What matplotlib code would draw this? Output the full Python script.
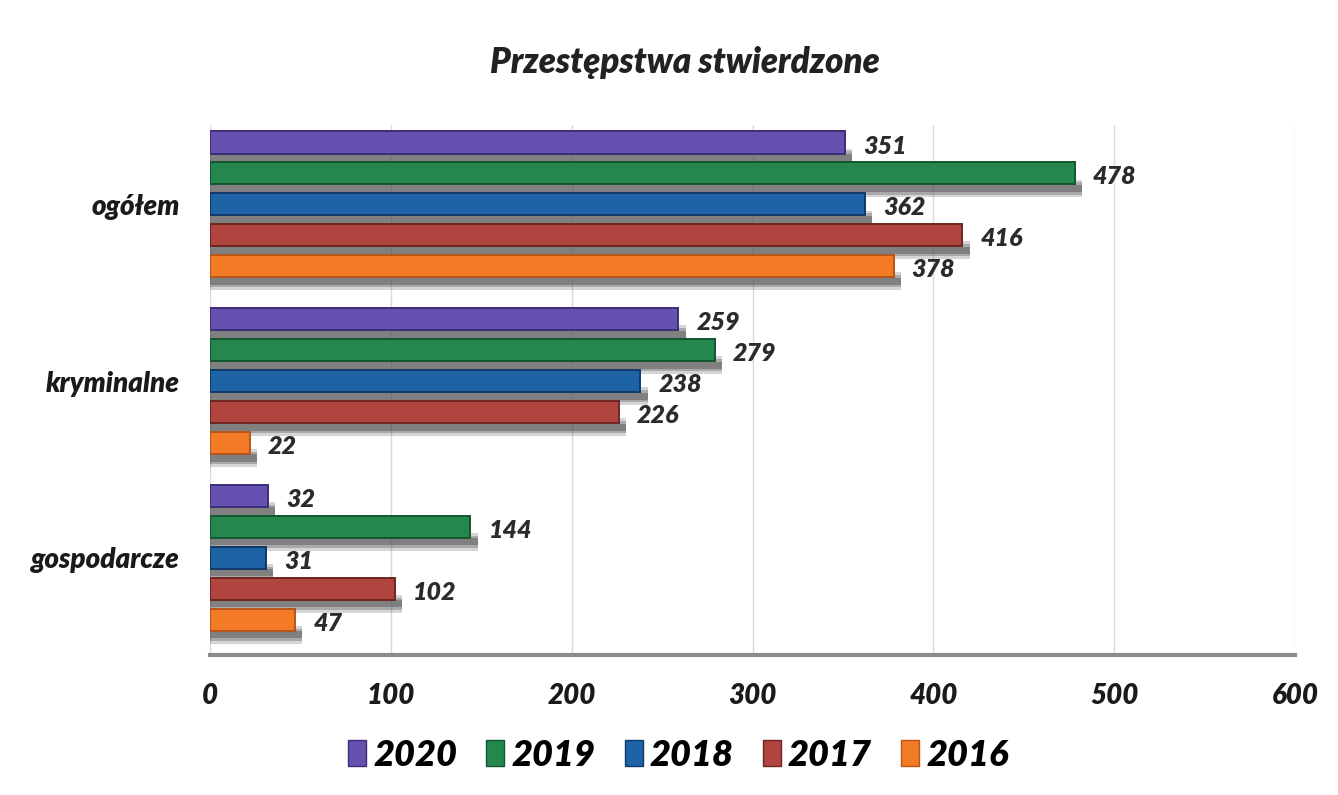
import matplotlib.pyplot as plt
from matplotlib.patches import Patch

# data
categories = ["ogółem", "kryminalne", "gospodarcze"]
years = ["2020", "2019", "2018", "2017", "2016"]
v2020 = [351, 259, 32]
v2019 = [478, 279, 144]
v2018 = [362, 238, 31]
v2017 = [416, 226, 102]
v2016 = [378, 22, 47]
series = [v2020, v2019, v2018, v2017, v2016]
colors = ["#6650b0", "#24884e", "#1d63a6", "#b0443e", "#f47b25"]
edges = ["#3d2d78", "#13562f", "#10396a", "#6e2522", "#b8541a"]

plt.rcParams['font.family'] = ['Lato', 'DejaVu Sans']
W = "heavy"

fig = plt.figure(figsize=(13.38, 7.95), dpi=100)
ax = fig.add_axes([0.157, 0.176, 0.811, 0.667])

step = 0.175
h = 0.125
for k, vals in enumerate(series):
    off = (k - 2) * step
    ys = [i + off for i in range(len(categories))]
    # soft shadow under each bar, a few layers for a blurred look
    for dy, hh, a in [(0.085, 0.1, 0.22), (0.085, 0.07, 0.3), (0.085, 0.04, 0.4)]:
        ax.barh([y + dy for y in ys], [v + 4 for v in vals], height=hh,
                left=0, color="#444444", alpha=a, linewidth=0, zorder=2)
    ax.barh(ys, vals, height=h, color=colors[k], edgecolor=edges[k],
            linewidth=1.4, zorder=3)
    for y, v in zip(ys, vals):
        ax.text(v + 10, y + 0.02, str(v), va="center", ha="left",
                fontsize=18, fontweight=W, fontstyle="italic",
                color="#2b2b2b", zorder=4)

ax.set_xlim(0, 600)
ax.set_ylim(2.55, -0.45)
ax.set_xticks(range(0, 601, 100))
ax.set_yticks(range(len(categories)))
ax.set_yticklabels(categories, fontsize=20, fontweight=W, fontstyle="italic")
for lab in ax.get_xticklabels():
    lab.set_fontsize(20)
    lab.set_fontweight(W)
    lab.set_fontstyle("italic")
ax.tick_params(axis="both", length=0, colors="#1a1a1a")
ax.tick_params(axis="x", pad=20)
ax.tick_params(axis="y", pad=22)
ax.grid(axis="x", color="#d9d9d9", linewidth=1, zorder=0)
for s in ["top", "right", "left"]:
    ax.spines[s].set_visible(False)
ax.spines["bottom"].set_color("#8c8c8c")
ax.spines["bottom"].set_linewidth(3)

fig.text(0.512, 0.922, "Przestępstwa stwierdzone", ha="center", va="center",
         fontsize=25, fontweight=W, fontstyle="italic", color="#222222")

handles = [Patch(facecolor=c, edgecolor=e, label=y)
           for c, e, y in zip(colors, edges, years)]
leg = fig.legend(handles=handles, loc="center", bbox_to_anchor=(0.507, 0.05),
                 ncol=5, frameon=False, handlelength=0.5, handleheight=0.75,
                 handletextpad=0.2, columnspacing=0.8,
                 prop={"size": 26, "weight": W, "style": "italic"})

fig.savefig("out.png", dpi=100)
